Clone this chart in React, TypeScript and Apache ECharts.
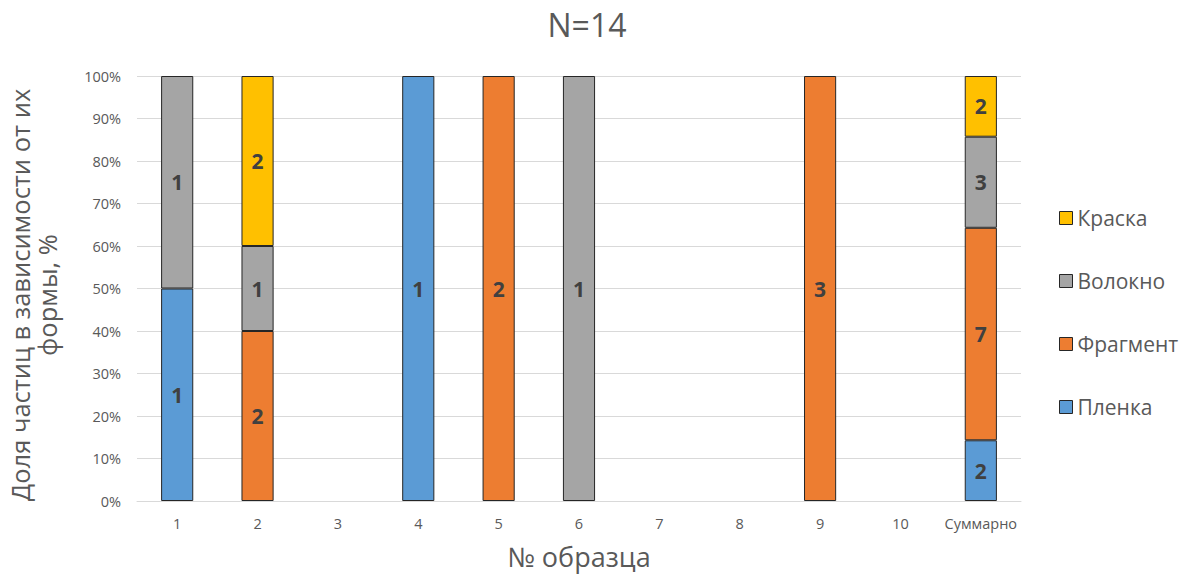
import React, { useEffect, useRef } from "react";
import * as echarts from "echarts";

const categories = ["1", "2", "3", "4", "5", "6", "7", "8", "9", "10", "Суммарно"];
const plenka = [1, 0, 0, 1, 0, 0, 0, 0, 0, 0, 2];
const fragment = [0, 2, 0, 0, 2, 0, 0, 0, 3, 0, 7];
const volokno = [1, 1, 0, 0, 0, 1, 0, 0, 0, 0, 3];
const kraska = [0, 2, 0, 0, 0, 0, 0, 0, 0, 0, 2];
const yTicks = [0, 10, 20, 30, 40, 50, 60, 70, 80, 90, 100];
const yAxisTitle = "Доля частиц в зависимости от их\nформы, %";

const seriesDefs = [
  { name: "Пленка", values: plenka, color: "#5B9BD5" },
  { name: "Фрагмент", values: fragment, color: "#ED7D31" },
  { name: "Волокно", values: volokno, color: "#A5A5A5" },
  { name: "Краска", values: kraska, color: "#FFC000" },
];

const FONT = "'Open Sans', 'Noto Sans', sans-serif";

export default function App() {
  const ref = useRef<HTMLDivElement>(null);
  useEffect(() => {
    if (!ref.current) return;
    const chart = echarts.init(ref.current, undefined, { renderer: "svg" });
    const totals = categories.map((_, i) =>
      seriesDefs.reduce((s, d) => s + d.values[i], 0)
    );
    chart.setOption({
      animation: false,
      textStyle: { fontFamily: FONT },
      title: {
        text: "N=14",
        left: 582,
        textAlign: "center",
        top: 3,
        textStyle: { fontFamily: FONT, fontSize: 32, fontWeight: "normal", color: "#595959" },
      },
      legend: {
        orient: "vertical",
        left: 1054,
        top: 201,
        itemWidth: 13,
        itemHeight: 13,
        itemGap: 39,
        itemStyle: { borderColor: "#262626", borderWidth: 1 },
        icon: "rect",
        data: ["Краска", "Волокно", "Фрагмент", "Пленка"],
        textStyle: { fontFamily: FONT, fontSize: 21, color: "#595959", lineHeight: 24 },
      },
      grid: { left: 137, right: 171, top: 76, bottom: 73, outerBoundsMode: "none", containLabel: false },
      graphic: [
        {
          type: "text",
          x: 33,
          y: 295,
          rotation: Math.PI / 2,
          style: {
            text: yAxisTitle,
            fontFamily: FONT,
            fontSize: 25.5,
            lineHeight: 27,
            fill: "#595959",
            textAlign: "center",
            textVerticalAlign: "middle",
          },
        },
      ],
      xAxis: {
        type: "category",
        data: categories,
        name: "№ образца",
        nameLocation: "middle",
        nameGap: 42,
        nameTextStyle: { fontFamily: FONT, fontSize: 27, color: "#595959" },
        axisLine: { lineStyle: { color: "#D9D9D9", width: 1 } },
        axisTick: { show: false },
        axisLabel: { interval: 0, fontFamily: FONT, fontSize: 14.5, color: "#595959", margin: 15 },
      },
      yAxis: {
        type: "value",
        min: 0,
        max: 100,
        interval: 10,
        axisLine: { show: false },
        axisTick: { show: false },
        splitLine: { lineStyle: { color: "#D9D9D9", width: 1 } },
        axisLabel: {
          fontFamily: FONT,
          fontSize: 14.5,
          color: "#595959",
          margin: 16,
          formatter: (v: number) => (yTicks.includes(v) ? v + "%" : ""),
        },
      },
      series: seriesDefs.map((d) => ({
        name: d.name,
        type: "bar",
        stack: "total",
        barWidth: "40%",
        itemStyle: { color: d.color, borderColor: "#262626", borderWidth: 1 },
        label: {
          show: true,
          position: "inside",
          fontFamily: FONT,
          fontSize: 21,
          fontWeight: "bold",
          color: "#404040",
          formatter: (p: any) => {
            const c = d.values[p.dataIndex];
            return c ? String(c) : "";
          },
        },
        data: d.values.map((v, i) => (v && totals[i] ? (v / totals[i]) * 100 : null)),
      })),
    });
    return () => chart.dispose();
  }, []);
  return (
    <div
      ref={ref}
      style={{ position: "fixed", left: 0, top: 0, width: 1192, height: 574, background: "#fff" }}
    />
  );
}
